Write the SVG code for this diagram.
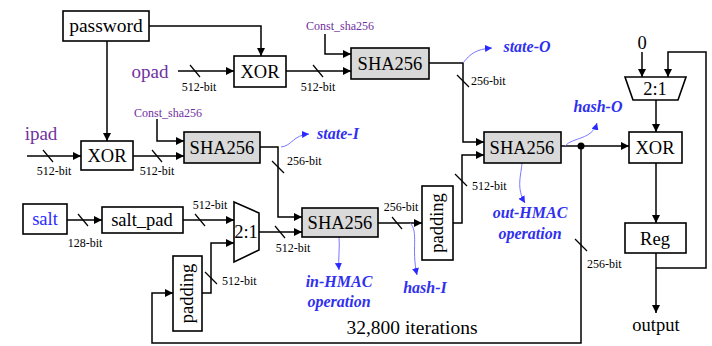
<svg xmlns="http://www.w3.org/2000/svg" width="712" height="346" viewBox="0 0 712 346" font-family="'Liberation Serif', 'Times New Roman', 'DejaVu Serif', serif">
<defs>
<marker id="ar" viewBox="0 0 10 10" refX="10" refY="5" markerWidth="8" markerHeight="8" markerUnits="userSpaceOnUse" orient="auto"><path d="M0,0 L10,5 L0,10 z" fill="#000"/></marker>
<marker id="ab" viewBox="0 0 10 10" refX="10" refY="5" markerWidth="7" markerHeight="7" markerUnits="userSpaceOnUse" orient="auto"><path d="M0,0 L10,5 L0,10 z" fill="#2a2aff"/></marker>
<style>
.bx{fill:#fff;stroke:#000;stroke-width:1.6}
.sh{fill:#d9d9d9;stroke:#000;stroke-width:1.6}
.wa{fill:none;stroke:#000;stroke-width:1.5;marker-end:url(#ar)}
.sl{stroke:#000;stroke-width:1.2}
.bl{fill:none;stroke:#7777ff;stroke-width:1;marker-end:url(#ab)}
.t{font-size:18.5px;text-anchor:middle;fill:#000}
.s{font-size:12px;fill:#000}
.c{font-size:12px;fill:#7030a0;text-anchor:middle}
.p{font-size:19px;fill:#7030a0;text-anchor:middle}
.i{font-size:16px;font-style:italic;font-weight:bold;fill:#3030ee;text-anchor:middle}
</style>
</defs>
<g id="connectors">
<path class="wa" d="M149,26 H261 V56"/>
<path class="wa" d="M107,41 V141"/>
<path class="wa" d="M178,71 H234"/>
<path class="wa" d="M286,71 H351"/>
<path class="wa" d="M325,34 V54 H351"/>
<path class="wa" d="M429,63 H463 V142 H484"/>
<path class="wa" d="M27,156 H81"/>
<path class="wa" d="M133,156 H184"/>
<path class="wa" d="M157,119 V141 H184"/>
<path class="wa" d="M260,147 H278 V217 H302"/>
<path class="wa" d="M67,220 H102"/>
<path class="wa" d="M183,220 H234"/>
<path class="wa" d="M202,293 H211 V243 H234"/>
<path class="wa" d="M259,232 H302"/>
<path class="wa" d="M378,223 H422"/>
<path class="wa" d="M453,223 H462 V155 H484"/>
<path class="wa" d="M561,146 H629"/>
<circle cx="581" cy="146" r="3.5" fill="#000"/>
<path class="wa" d="M581,146 V343 H152 V293 H173"/>
<path class="wa" d="M642,52 V77"/>
<path class="wa" d="M656,100 V132"/>
<path class="wa" d="M656,163 V223"/>
<path class="wa" d="M656,253 V313"/>
<path class="wa" d="M656,268 H706 V52 H668 V77"/>
<line class="sl" x1="190" y1="65" x2="200" y2="77"/>
<line class="sl" x1="313" y1="65" x2="323" y2="77"/>
<line class="sl" x1="457" y1="75" x2="469" y2="87"/>
<line class="sl" x1="43" y1="150" x2="53" y2="162"/>
<line class="sl" x1="152" y1="150" x2="162" y2="162"/>
<line class="sl" x1="272" y1="161" x2="284" y2="173"/>
<line class="sl" x1="78" y1="214" x2="88" y2="226"/>
<line class="sl" x1="195" y1="214" x2="205" y2="226"/>
<line class="sl" x1="205" y1="272" x2="217" y2="284"/>
<line class="sl" x1="275" y1="226" x2="285" y2="238"/>
<line class="sl" x1="392" y1="217" x2="402" y2="229"/>
<line class="sl" x1="455" y1="174" x2="467" y2="186"/>
<line class="sl" x1="575" y1="239" x2="587" y2="251"/>
<text class="s" x="199" y="91" text-anchor="middle">512-bit</text>
<text class="s" x="318" y="91" text-anchor="middle">512-bit</text>
<text class="s" x="471" y="85">256-bit</text>
<text class="s" x="54" y="175" text-anchor="middle">512-bit</text>
<text class="s" x="157" y="175" text-anchor="middle">512-bit</text>
<text class="s" x="287" y="165">256-bit</text>
<text class="s" x="85" y="247" text-anchor="middle">128-bit</text>
<text class="s" x="210" y="209" text-anchor="middle">512-bit</text>
<text class="s" x="222" y="285">512-bit</text>
<text class="s" x="293" y="252" text-anchor="middle">512-bit</text>
<text class="s" x="401" y="211" text-anchor="middle">256-bit</text>
<text class="s" x="472" y="190">512-bit</text>
<text class="s" x="587" y="268">256-bit</text>
<path class="bl" d="M463,63 C470,54 476,49 492,48"/>
<path class="bl" d="M281,147 C292,146 293,135 309,134"/>
<path class="bl" d="M565,146 C573,137 592,140 597,123"/>
<path class="bl" d="M522,163 C521,176 516,188 525,203"/>
<path class="bl" d="M339,237 C340,248 338,258 339,270"/>
<path class="bl" d="M410,223 C419,232 411,248 417,275"/>
</g>
<g id="password"><rect class="bx" x="63" y="11" width="86" height="30"/><text class="t" x="106" y="32" style="font-size:19.5px">password</text></g>
<g id="xor-o"><rect class="bx" x="234" y="56" width="52" height="31"/><text class="t" x="260" y="78">XOR</text></g>
<g id="sha-o"><rect class="sh" x="351" y="48" width="78" height="31"/><text class="t" x="390" y="70">SHA256</text></g>
<g id="sha-i"><rect class="sh" x="184" y="132" width="76" height="31"/><text class="t" x="222" y="154">SHA256</text></g>
<g id="xor-i"><rect class="bx" x="81" y="141" width="52" height="29"/><text class="t" x="107" y="162">XOR</text></g>
<g id="sha-in"><rect class="sh" x="302" y="208" width="76" height="29"/><text class="t" x="340" y="229">SHA256</text></g>
<g id="sha-out"><rect class="sh" x="484" y="132" width="77" height="31"/><text class="t" x="522" y="154">SHA256</text></g>
<g id="xor-r"><rect class="bx" x="629" y="132" width="53" height="31"/><text class="t" x="655" y="154">XOR</text></g>
<g id="reg"><rect class="bx" x="625" y="223" width="61" height="30"/><text class="t" x="655" y="245">Reg</text></g>
<g id="salt"><rect class="bx" x="23" y="204" width="44" height="30"/><text class="t" x="45" y="225" style="fill:#2a2aff">salt</text></g>
<g id="salt_pad"><rect class="bx" x="102" y="207" width="81" height="26"/><text class="t" x="142" y="226">salt_pad</text></g>
<g id="padding-l"><rect class="bx" x="173" y="256" width="29" height="75"/><text class="t" transform="translate(193,293.5) rotate(-90)" x="0" y="0">padding</text></g>
<g id="padding-r"><rect class="bx" x="422" y="186" width="31" height="74"/><text class="t" transform="translate(443,223) rotate(-90)" x="0" y="0">padding</text></g>
<g id="mux-in"><polygon class="bx" points="234,202 259,213 259,250 234,262"/><text class="t" x="246" y="238">2:1</text></g>
<g id="mux-top"><polygon class="bx" points="625,77 686,77 678,100 633,100"/><text class="t" x="655" y="95">2:1</text></g>
<g id="labels">
<text class="t" x="642" y="49">0</text>
<text class="t" x="656" y="331">output</text>
<text class="t" x="412" y="334" style="font-size:19.5px">32,800 iterations</text>
<text class="p" x="150" y="78">opad</text>
<text class="p" x="41" y="140">ipad</text>
<text class="c" x="340" y="30">Const_sha256</text>
<text class="c" x="168" y="117">Const_sha256</text>
<text class="i" x="527" y="52">state-O</text>
<text class="i" x="338" y="139">state-I</text>
<text class="i" x="598" y="112">hash-O</text>
<text class="i" x="425" y="293">hash-I</text>
<text class="i" x="339" y="287">in-HMAC</text>
<text class="i" x="339" y="307">operation</text>
<text class="i" x="530" y="218">out-HMAC</text>
<text class="i" x="530" y="239">operation</text>
</g>
</svg>
